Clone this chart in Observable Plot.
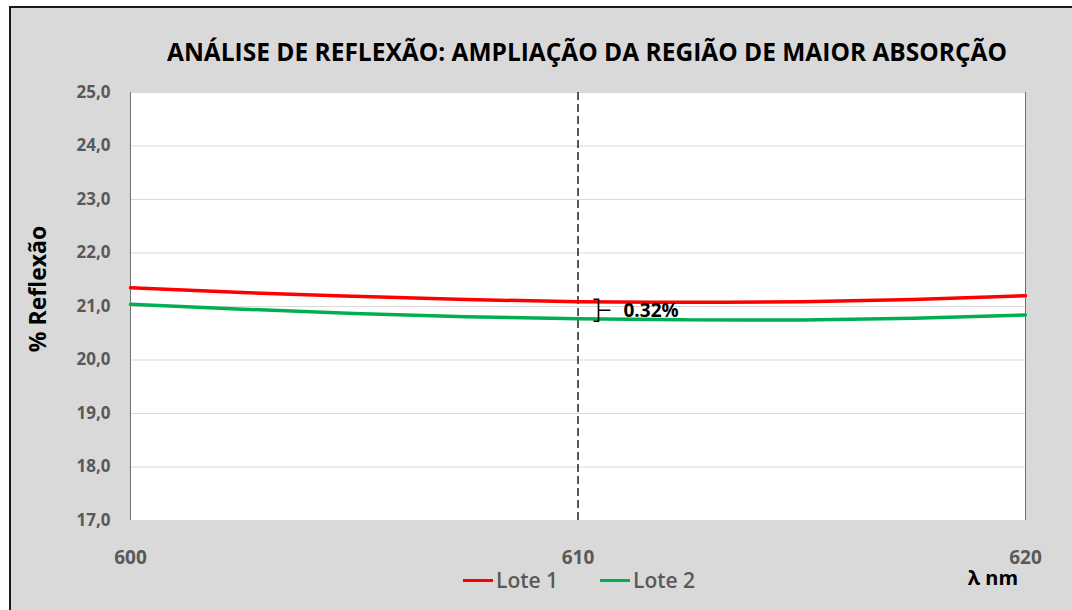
<!DOCTYPE html>
<html>
<head>
<meta charset="utf-8">
<script src="https://cdn.jsdelivr.net/npm/d3@7"></script>
<script src="https://cdn.jsdelivr.net/npm/@observablehq/plot@0.6"></script>
<style>
  html, body { margin: 0; padding: 0; background: #ffffff; overflow: hidden; }
  #wrap { position: relative; width: 1072px; height: 610px; overflow: hidden; font-family: "Open Sans", sans-serif; }
  #frame { position: absolute; left: 9px; top: 6px; width: 1120px; height: 700px; box-sizing: border-box; border: 2px solid #1a1a1a; background: #d9d9d9; }
  #chart { position: absolute; left: 0; top: 0; }
  .t { position: absolute; white-space: nowrap; }
  #title { left: 587px; top: 51px; transform: translate(-50%, -50%); font-size: 24.5px; font-weight: 700; color: #000; }
  #ylab { left: 37px; top: 289px; transform: translate(-50%, -50%) rotate(-90deg); font-size: 23px; font-weight: 700; color: #000; }
  #xlab { left: 993px; top: 577px; transform: translate(-50%, -50%); font-size: 20px; font-weight: 700; color: #000; }
  .leg { position: absolute; top: 580px; transform: translateY(-50%); display: flex; align-items: center; font-size: 21px; font-weight: 600; color: #595959; }
  .sw { display: inline-block; width: 30px; height: 3px; margin-right: 3px; }
</style>
</head>
<body>
<div id="wrap">
  <div id="frame"></div>
  <div id="chart"></div>
  <div class="t" id="title"></div>
  <div class="t" id="ylab"></div>
  <div class="t" id="xlab"></div>
  <div class="leg" id="leg1" style="left:463px"><span class="sw"></span><span class="lt"></span></div>
  <div class="leg" id="leg2" style="left:600px"><span class="sw"></span><span class="lt"></span></div>
</div>
<script>
const titleText = "ANÁLISE DE REFLEXÃO: AMPLIAÇÃO DA REGIÃO DE MAIOR ABSORÇÃO";
const yLabel = "% Reflexão";
const xLabel = "λ nm";
const seriesNames = ["Lote 1", "Lote 2"];
const seriesColors = ["#ff0000", "#00b050"];
const wavelengths = [600, 602.5, 605, 607.5, 610, 612.5, 615, 617.5, 620];
const lote1 = [21.35, 21.26, 21.19, 21.13, 21.09, 21.08, 21.09, 21.13, 21.20];
const lote2 = [21.04, 20.95, 20.87, 20.81, 20.77, 20.75, 20.75, 20.78, 20.84];
const xTicks = [600, 610, 620];
const yTicks = [17, 18, 19, 20, 21, 22, 23, 24, 25];
const markerX = 610;

document.getElementById("title").textContent = titleText;
document.getElementById("ylab").textContent = yLabel;
document.getElementById("xlab").textContent = xLabel;
[["leg1", 0], ["leg2", 1]].forEach(([id, i]) => {
  const el = document.getElementById(id);
  el.querySelector(".sw").style.background = seriesColors[i];
  el.querySelector(".lt").textContent = seriesNames[i];
});

const data1 = wavelengths.map((x, i) => ({x, y: lote1[i]}));
const data2 = wavelengths.map((x, i) => ({x, y: lote2[i]}));
const iM = wavelengths.indexOf(markerX);
const vTop = lote1[iM], vBot = lote2[iM];
const diffText = (vTop - vBot).toFixed(2) + "%";

const bracket = (index, scales) => {
  const x0 = scales.x(markerX) + 21;
  const yt = scales.y(vTop) - 2, yb = scales.y(vBot) + 3, ym = (yt + yb) / 2;
  const g = document.createElementNS("http://www.w3.org/2000/svg", "g");
  const p = document.createElementNS("http://www.w3.org/2000/svg", "path");
  p.setAttribute("d", `M${x0 - 5},${yt} L${x0},${yt} L${x0},${yb} L${x0 - 5},${yb} M${x0},${ym} L${x0 + 12},${ym}`);
  p.setAttribute("fill", "none");
  p.setAttribute("stroke", "#000");
  p.setAttribute("stroke-width", "1.6");
  g.appendChild(p);
  const t = document.createElementNS("http://www.w3.org/2000/svg", "text");
  t.setAttribute("x", x0 + 25);
  t.setAttribute("y", ym);
  t.setAttribute("dy", "0.35em");
  t.setAttribute("text-anchor", "start");
  t.setAttribute("font-size", "19");
  t.setAttribute("font-weight", "bold");
  t.setAttribute("fill", "#000");
  t.textContent = diffText;
  g.appendChild(t);
  return g;
};

const plot = Plot.plot({
  width: 1072,
  height: 610,
  marginLeft: 130,
  marginRight: 47,
  marginTop: 92,
  marginBottom: 90,
  style: { background: "transparent", color: "#595959", fontFamily: "Open Sans, sans-serif" },
  x: { domain: [600, 620] },
  y: { domain: [17, 25] },
  marks: [
    Plot.frame({ fill: "white", stroke: "none" }),
    Plot.gridY(yTicks, { stroke: "#d9d9d9", strokeOpacity: 1, strokeWidth: 1 }),
    Plot.ruleX([600, 620], { stroke: "#707070", strokeWidth: 1 }),
    Plot.ruleX([markerX], { stroke: "#000", strokeDasharray: "8,4", strokeWidth: 1.3 }),
    Plot.line(data1, { x: "x", y: "y", stroke: seriesColors[0], strokeWidth: 3.5, curve: "natural" }),
    Plot.line(data2, { x: "x", y: "y", stroke: seriesColors[1], strokeWidth: 3.5, curve: "natural" }),
    bracket,
    Plot.axisY({ ticks: yTicks, tickFormat: d => d.toFixed(1).replace(".", ","), tickSize: 0, tickPadding: 20, label: null, fontSize: 17, fontWeight: "bold", fill: "#595959" }),
    Plot.axisX({ ticks: xTicks, tickFormat: d => String(d), tickSize: 0, tickPadding: 30, label: null, fontSize: 19, fontWeight: "bold", fill: "#595959" })
  ]
});
document.getElementById("chart").appendChild(plot);
</script>
</body>
</html>
